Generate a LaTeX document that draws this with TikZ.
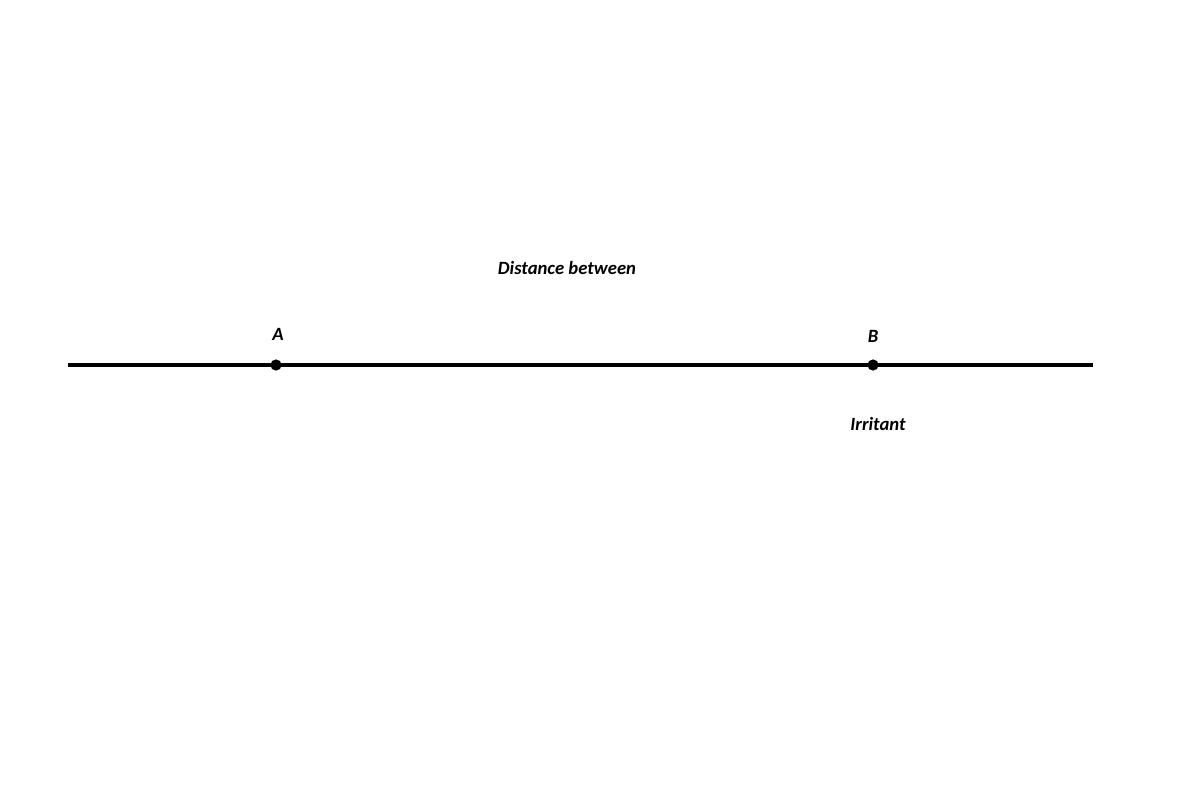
\documentclass[tikz,border=0pt]{standalone}
\usepackage{fontspec}
\setmainfont{Carlito}
\usetikzlibrary{positioning}

\begin{document}
\begin{tikzpicture}
[x=0.025cm, y=-0.025cm,
 every node/.style={font=\fontsize{13.3}{16}\selectfont\bfseries\itshape, inner sep=0pt},
 point/.style={circle, fill=black, minimum size=0.28cm},
 track/.style={line width=2.2pt}
]
\useasboundingbox (0,0) rectangle (1200,800);
\coordinate (left) at (68,365);
\coordinate (right) at (1093,365);
\draw[track] (left) -- (right);
\node[point] (a) at (276,365) {};
\node[point] (b) at (873,365) {};
\node (alabel) at (278,334) {A};
\node (blabel) at (873,336) {B};
\node (distance) at (567,268) {Distance between};
\node (irritant) at (878,424) {Irritant};
\end{tikzpicture}
\end{document}
